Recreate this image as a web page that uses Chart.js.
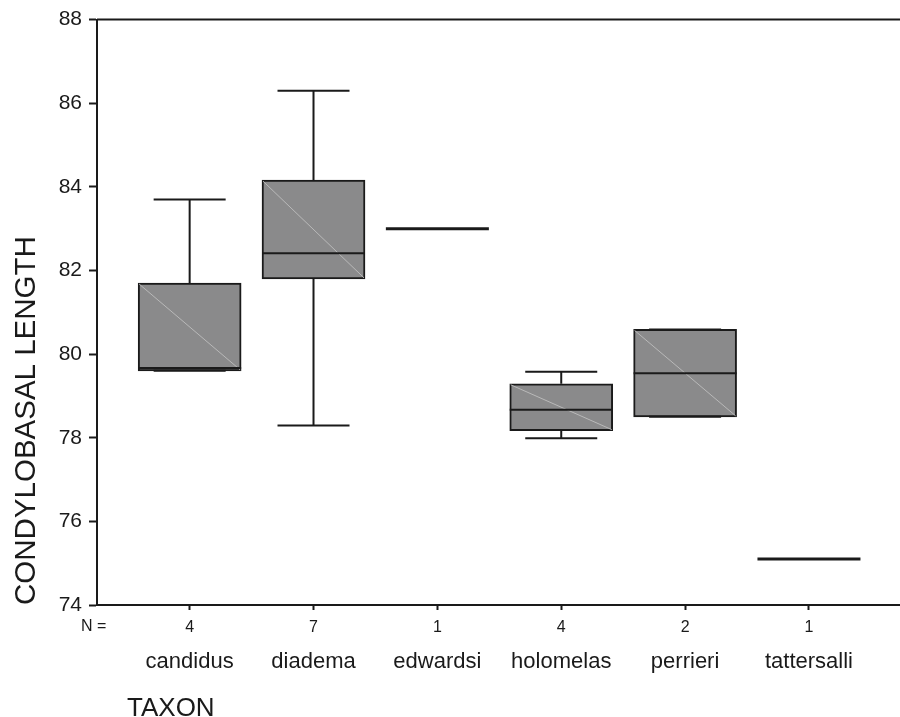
<!DOCTYPE html>
<html>
<head>
<meta charset="utf-8">
<script src="https://cdn.jsdelivr.net/npm/chart.js@4/dist/chart.umd.min.js"></script>
<style>
  html, body { margin: 0; padding: 0; background: #fff; }
</style>
</head>
<body>
<canvas id="boxChart" width="900" height="717"></canvas>
<script>
// Data
const taxa = ['candidus', 'diadema', 'edwardsi', 'holomelas', 'perrieri', 'tattersalli'];
const nCounts = [4, 7, 1, 4, 2, 1];
const whiskerLow = [79.6, 78.29, 83.0, 77.99, 78.5, 75.1];
const q1 = [79.6, 81.8, 83.0, 78.17, 78.5, 75.1];
const median = [79.67, 82.41, 83.0, 78.67, 79.54, 75.1];
const q3 = [81.7, 84.16, 83.0, 79.29, 80.59, 75.1];
const whiskerHigh = [83.7, 86.3, 83.0, 79.58, 80.59, 75.1];
const yTicks = [74, 76, 78, 80, 82, 84, 86, 88];

const FONT = '"Liberation Sans", Arial, Helvetica, sans-serif';
const INK = '#1a1a1a';
const BOX_W = 103;
const CAP_W = 72;

// whiskers, medians and the light diagonal that the old plot had in every box
const boxDetails = {
    id: 'boxDetails',
    afterDatasetsDraw(chart) {
        const ctx = chart.ctx;
        const xs = chart.scales.x, ys = chart.scales.y;
        ctx.save();
        taxa.forEach((t, i) => {
            const cx = xs.getPixelForValue(i);
            const left = cx - BOX_W / 2, right = cx + BOX_W / 2;
            const yq1 = ys.getPixelForValue(q1[i]);
            const yq3 = ys.getPixelForValue(q3[i]);
            const ylo = ys.getPixelForValue(whiskerLow[i]);
            const yhi = ys.getPixelForValue(whiskerHigh[i]);
            const ymed = ys.getPixelForValue(median[i]);

            if (q3[i] > q1[i]) {
                ctx.strokeStyle = '#b9b9b9';
                ctx.lineWidth = 1;
                ctx.beginPath();
                ctx.moveTo(left + 1, yq3 + 1);
                ctx.lineTo(right - 1, yq1 - 1);
                ctx.stroke();
            }

            ctx.strokeStyle = INK;
            ctx.lineWidth = 2;
            ctx.beginPath();
            if (whiskerHigh[i] > q3[i]) {
                ctx.moveTo(cx, yq3); ctx.lineTo(cx, yhi);
            }
            if (whiskerLow[i] < q1[i]) {
                ctx.moveTo(cx, yq1); ctx.lineTo(cx, ylo);
            }
            if (whiskerHigh[i] !== whiskerLow[i]) {
                ctx.moveTo(cx - CAP_W / 2, yhi); ctx.lineTo(cx + CAP_W / 2, yhi);
                ctx.moveTo(cx - CAP_W / 2, ylo); ctx.lineTo(cx + CAP_W / 2, ylo);
            }
            ctx.stroke();

            ctx.lineWidth = q3[i] > q1[i] ? 2 : 3;
            ctx.beginPath();
            ctx.moveTo(left, ymed); ctx.lineTo(right, ymed);
            ctx.stroke();
        });

        // top frame line
        const a = chart.chartArea;
        ctx.lineWidth = 2;
        ctx.beginPath();
        ctx.moveTo(a.left, a.top); ctx.lineTo(a.right, a.top);
        ctx.stroke();

        // "N =" and the axis title
        ctx.fillStyle = INK;
        ctx.font = '16px ' + FONT;
        ctx.textAlign = 'left';
        ctx.textBaseline = 'middle';
        ctx.fillText('N =', 81, a.bottom + 22);
        ctx.font = '26px ' + FONT;
        ctx.textBaseline = 'alphabetic';
        ctx.fillText('TAXON', a.left + 30, chart.scales.x2.bottom + 39);
        ctx.restore();
    }
};

const ctx = document.getElementById('boxChart').getContext('2d');
new Chart(ctx, {
    type: 'bar',
    data: {
        datasets: [{
            data: taxa.map((t, i) => ({ x: i, y: [q1[i], q3[i]] })),
            backgroundColor: '#8a8a8b',
            borderColor: INK,
            borderWidth: 2,
            borderSkipped: false,
            barThickness: BOX_W
        }]
    },
    options: {
        responsive: false,
        animation: false,
        layout: { padding: { top: 17, right: 0, bottom: 40, left: 0 } },
        plugins: { legend: { display: false }, tooltip: { enabled: false } },
        scales: {
            x: {
                type: 'linear',
                position: 'bottom',
                weight: 0,
                offset: false,
                min: -0.748,
                max: 5.735,
                afterBuildTicks: s => { s.ticks = taxa.map((t, i) => ({ value: i })); },
                afterFit: s => { s.height = 32; },
                grid: { display: true, drawOnChartArea: false, offset: false, tickLength: 5, tickColor: INK, tickWidth: 2 },
                border: { display: true, color: INK, width: 2 },
                ticks: {
                    padding: 8,
                    color: INK,
                    font: { family: FONT, size: 16 },
                    maxRotation: 0,
                    callback: v => nCounts[v]
                }
            },
            x2: {
                type: 'linear',
                position: 'bottom',
                weight: 1,
                offset: false,
                min: -0.748,
                max: 5.735,
                afterBuildTicks: s => { s.ticks = taxa.map((t, i) => ({ value: i })); },
                afterFit: s => { s.height = 40; },
                grid: { display: false, drawTicks: false },
                border: { display: false },
                ticks: {
                    padding: 12,
                    color: INK,
                    font: { family: FONT, size: 22 },
                    maxRotation: 0,
                    callback: v => taxa[v]
                }
            },
            y: {
                min: 74,
                max: 88,
                afterBuildTicks: s => { s.ticks = yTicks.map(v => ({ value: v })); },
                afterFit: s => { s.width = 97; },
                grid: { display: true, drawOnChartArea: false, tickLength: 8, tickColor: INK, tickWidth: 2 },
                border: { display: true, color: INK, width: 2 },
                ticks: { padding: 7, color: INK, font: { family: FONT, size: 21 } },
                title: {
                    display: true,
                    text: 'CONDYLOBASAL LENGTH',
                    align: 'start',
                    color: INK,
                    font: { family: FONT, size: 29.5 },
                    padding: { top: 9, bottom: 0 }
                }
            }
        }
    },
    plugins: [boxDetails]
});
</script>
</body>
</html>
